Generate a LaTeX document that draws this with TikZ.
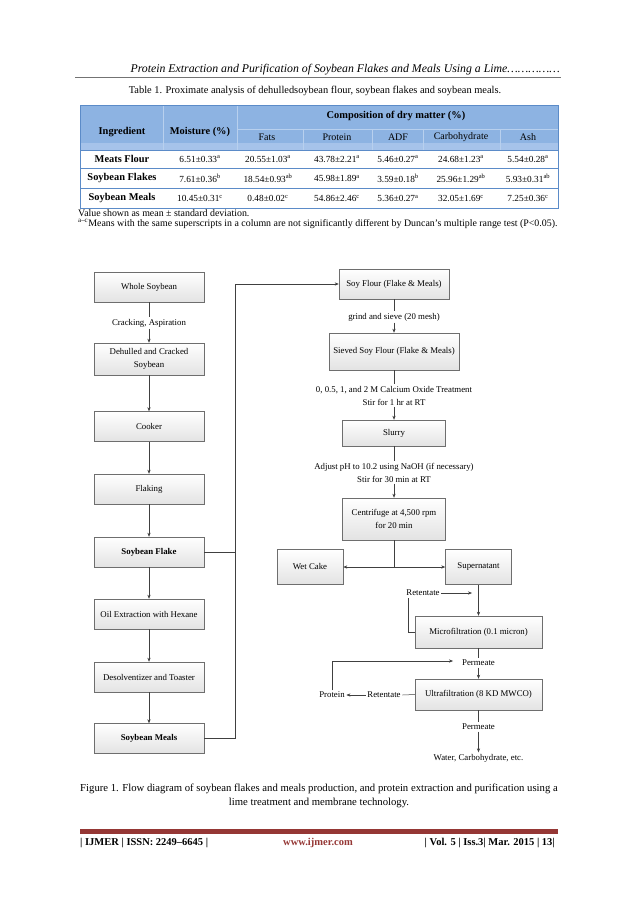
\documentclass[tikz,border=0pt]{standalone}
\usepackage{fontspec}
\setmainfont{Liberation Serif}
\usetikzlibrary{arrows.meta,calc}
\definecolor{hdrblue}{HTML}{8DB3E2}
\definecolor{hdrblueb}{HTML}{A6C3EA}
\definecolor{tblue}{HTML}{5B8BC8}
\definecolor{gridblue}{HTML}{B8D0EE}
\definecolor{footred}{HTML}{953735}
\definecolor{linegray}{HTML}{404040}
\definecolor{boxedge}{HTML}{6E6E6E}
\newcommand{\fsBox}{\fontsize{8.8}{13}\selectfont}
\newcommand{\fsTab}{\fontsize{9.3}{11}\selectfont}
\newcommand{\fsTabS}{\fontsize{10}{11}\selectfont}
\newcommand{\fsTabH}{\fontsize{10.4}{12}\selectfont\bfseries}
\newcommand{\fsHead}{\fontsize{11.8}{14}\selectfont\itshape}
\newcommand{\fsCap}{\fontsize{10.4}{14}\selectfont}
\newcommand{\fsFig}{\fontsize{10.7}{14}\selectfont}
\newcommand{\fsNote}{\fontsize{9.9}{11}\selectfont}
\newcommand{\fsFoot}{\fontsize{10.5}{12}\selectfont\bfseries}
\begin{document}
\begin{tikzpicture}[x=1pt,y=-1pt,
  box/.style={draw=boxedge, line width=0.5pt, top color=white, bottom color=black!11,
    minimum width=110, minimum height=30, inner sep=1pt, align=center, font=\fsBox},
  lbl/.style={inner sep=1.5pt, font=\fsBox, align=center},
  conn/.style={draw=linegray, line width=0.5pt},
  arr/.style={conn, -{Stealth[length=4pt,width=3.2pt]}},
  tcell/.style={inner sep=0pt, font=\fsTab},
  thead/.style={inner sep=0pt, font=\fsTabH},
  tsub/.style={inner sep=0pt, font=\fsTabS}]
\useasboundingbox[fill=white] (0,0) rectangle (638,910);

% ---------- page header ----------
\node[font=\fsHead, anchor=base east, inner sep=0] (hdr) at (560,72)
  {Protein Extraction and Purification of Soybean Flakes and Meals Using a Lime……………};
\draw[black!55, line width=0.8pt] (75,77) -- (561,77);

% ---------- table ----------
\node[font=\fsCap, inner sep=0] (tcap) at (315,91)
  {Table 1. Proximate analysis of dehulledsoybean flour, soybean flakes and soybean meals.};
\fill[hdrblue] (80,105) rectangle (558,150);
\fill[hdrblueb] (80,143) rectangle (558,150);
\draw[gridblue, line width=0.6pt]
  (163,105) -- (163,150) (237,105) -- (237,150) (237,129) -- (558,129)
  (303,129) -- (303,150) (372,129) -- (372,150) (423,129) -- (423,150) (500,129) -- (500,150);
\draw[tblue, line width=1pt] (80,150) -- (558,150) (80,168.5) -- (558,168.5) (80,188.5) -- (558,188.5);
\draw[tblue, line width=1pt] (80,105) rectangle (558,208);

\node[thead] (hIng) at (122,132) {Ingredient};
\node[thead] (hMoist) at (200,132) {Moisture (\%)};
\node[thead] (hComp) at (396,116) {Composition of dry matter (\%)};
\node[tsub] (hFat) at (267,137) {Fats};
\node[tsub] (hPro) at (337,137) {Protein};
\node[tsub] (hADF) at (398,137) {ADF};
\node[tsub] (hCarb) at (461,137) {Carbohydrate};
\node[tsub] (hAsh) at (528,137) {Ash};

\foreach \yy/\nm/\va/\vb/\vc/\vd/\ve/\vf [count=\i] in {
  159/{Meats Flour}/{6.51±0.33\textsuperscript{a}}/{20.55±1.03\textsuperscript{a}}/{43.78±2.21\textsuperscript{a}}/{5.46±0.27\textsuperscript{a}}/{24.68±1.23\textsuperscript{a}}/{5.54±0.28\textsuperscript{a}},
  178.5/{Soybean Flakes}/{7.61±0.36\textsuperscript{b}}/{18.54±0.93\textsuperscript{ab}}/{45.98±1.89\textsuperscript{a}}/{3.59±0.18\textsuperscript{b}}/{25.96±1.29\textsuperscript{ab}}/{5.93±0.31\textsuperscript{ab}},
  198.5/{Soybean Meals}/{10.45±0.31\textsuperscript{c}}/{0.48±0.02\textsuperscript{c}}/{54.86±2.46\textsuperscript{c}}/{5.36±0.27\textsuperscript{a}}/{32.05±1.69\textsuperscript{c}}/{7.25±0.36\textsuperscript{c}}} {
  \node[thead] (r\i c0) at (122,\yy) {\nm};
  \node[tcell] (r\i c1) at (200,\yy) {\va};
  \node[tcell] (r\i c2) at (268,\yy) {\vb};
  \node[tcell] (r\i c3) at (337,\yy) {\vc};
  \node[tcell] (r\i c4) at (398,\yy) {\vd};
  \node[tcell] (r\i c5) at (461,\yy) {\ve};
  \node[tcell] (r\i c6) at (528,\yy) {\vf};
}
\node[font=\fsNote, anchor=west, inner sep=0] (note1) at (78,213.5) {Value shown as mean ± standard deviation.};
\node[font=\fsNote, anchor=west, inner sep=0] (note2) at (78,224)
  {\textsuperscript{a–c}Means with the same superscripts in a column are not significantly different by Duncan’s multiple range test (P<0.05).};

% ---------- left column ----------
\node[box] (whole) at (149,287) {Whole Soybean};
\node[lbl] (crack) at (149,323) {Cracking, Aspiration};
\node[box, minimum height=32] (dehull) at (149,359) {Dehulled and Cracked\\Soybean};
\node[box] (cooker) at (149,426.5) {Cooker};
\node[box] (flaking) at (149,489) {Flaking};
\node[box, font=\fsBox\bfseries] (flake) at (149,552) {Soybean Flake};
\node[box] (oil) at (149,614) {Oil Extraction with Hexane};
\node[box] (desolv) at (149,677) {Desolventizer and Toaster};
\node[box, font=\fsBox\bfseries] (meals) at (149,738.5) {Soybean Meals};

\draw[conn] (whole) -- (crack);
\draw[arr] (crack) -- (dehull);
\draw[arr] (dehull) -- (cooker);
\draw[arr] (cooker) -- (flaking);
\draw[arr] (flaking) -- (flake);
\draw[arr] (flake) -- (oil);
\draw[arr] (oil) -- (desolv);
\draw[arr] (desolv) -- (meals);

% ---------- right column ----------
\node[box] (soy) at (394,284) {Soy Flour (Flake \& Meals)};
\node[lbl] (grind) at (394,317) {grind and sieve (20 mesh)};
\node[box, minimum width=130, minimum height=37] (sieved) at (394,351.5) {Sieved Soy Flour (Flake \& Meals)};
\node[lbl] (cao) at (394,395.5) {0, 0.5, 1, and 2 M Calcium Oxide Treatment\\Stir for 1 hr at RT};
\node[box, minimum width=103, minimum height=26] (slurry) at (394,433) {Slurry};
\node[lbl] (naoh) at (394,472.5) {Adjust pH to 10.2 using NaOH (if necessary)\\Stir for 30 min at RT};
\node[box, minimum width=103, minimum height=42] (centri) at (394,519) {Centrifuge at 4,500 rpm\\for 20 min};
\coordinate (split) at (394,567);
\node[box, minimum width=66, minimum height=35] (wet) at (310,567) {Wet Cake};
\node[box, minimum width=66, minimum height=35] (super) at (478.5,567) {Supernatant};
\node[lbl] (ret1) at (423,593) {Retentate};
\coordinate (retT) at (472,593);
\node[box, minimum width=127, minimum height=32] (micro) at (478.5,632) {Microfiltration (0.1 micron)};
\node[lbl] (perm1) at (478.5,663) {Permeate};
\coordinate (permT) at (453,661);
\node[box, minimum width=127, minimum height=31] (ultra) at (478.5,694.5) {Ultrafiltration (8 KD MWCO)};
\node[lbl] (ret2) at (384,695) {Retentate};
\node[lbl] (protein) at (332,695) {Protein};
\node[lbl] (perm2) at (478.5,727) {Permeate};
\node[lbl] (water) at (478.5,758) {Water, Carbohydrate, etc.};

\coordinate (busT) at (235,284);
\draw[arr] (meals.east) -| (busT) -- (soy.west);
\draw[conn] (flake.east) -- (flake.east -| busT);

\draw[conn] (soy) -- (grind);
\draw[arr] (grind) -- (sieved);
\draw[conn] (sieved) -- (cao);
\draw[arr] (cao) -- (slurry);
\draw[conn] (slurry) -- (naoh);
\draw[arr] (naoh) -- (centri);
\draw[conn] (centri.south) -- (split);
\draw[arr] (split) -- (wet.east);
\draw[arr] (split) -- (super.west);
\draw[arr] (super.south) -- (micro.north);
\draw[conn] (micro.west) -| ($(ret1.south west)+(4,0)$);
\draw[arr] (ret1.east) -- (retT);
\draw[conn] (micro) -- (perm1);
\draw[arr] (perm1) -- (ultra);
\draw[arr] (protein.north) |- (permT);
\draw[conn] (ultra.west) -- (ret2.east);
\draw[arr] (ret2.west) -- (protein.east);
\draw[conn] (ultra) -- (perm2);
\draw[arr] (perm2) -- (water);

% ---------- caption and footer ----------
\node[font=\fsFig, align=center, inner sep=0] (figcap) at (319,796)
  {Figure 1. Flow diagram of soybean flakes and meals production, and protein extraction and purification using a\\lime treatment and membrane technology.};
\fill[footred] (80,829) rectangle (558,833.5);
\node[font=\fsFoot, anchor=west, inner sep=0] (fl) at (80,843) {| IJMER | ISSN: 2249–6645 |};
\node[font=\fsFoot, text=footred, inner sep=0] (fc) at (318,843) {www.ijmer.com};
\node[font=\fsFoot, anchor=east, inner sep=0] (fr) at (555,843) {| Vol. 5 | Iss.3| Mar. 2015 | 13|};
\end{tikzpicture}
\end{document}
